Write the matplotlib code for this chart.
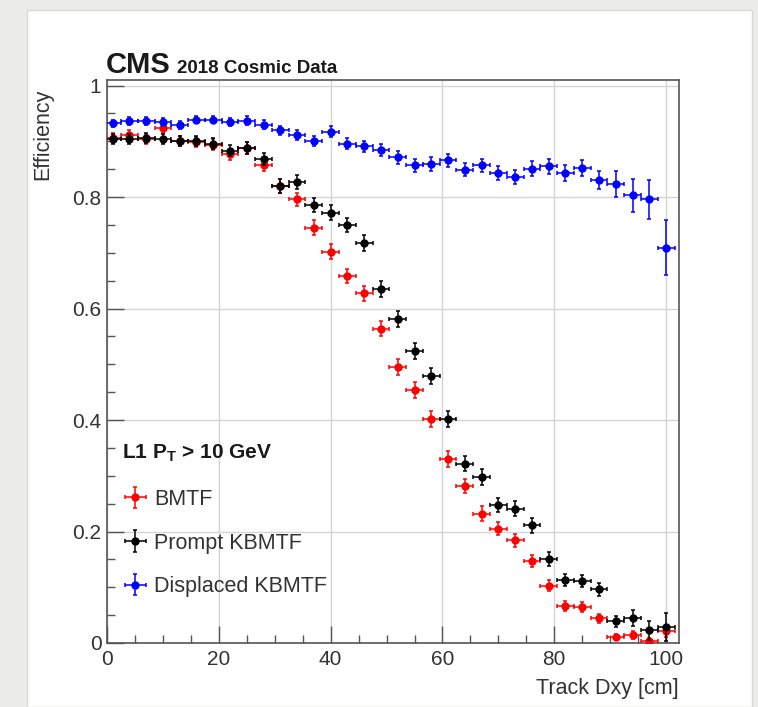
import numpy as np
import matplotlib
matplotlib.use("Agg")
from matplotlib import pyplot as plt
from matplotlib.patches import Rectangle
from matplotlib.ticker import MultipleLocator

plt.rcParams['font.family'] = ['Liberation Sans', 'DejaVu Sans']
plt.rcParams['mathtext.fontset'] = 'custom'
plt.rcParams['mathtext.rm'] = 'Liberation Sans'
plt.rcParams['mathtext.bf'] = 'Liberation Sans:bold'

# bin centres [cm], 3 cm wide
dxy = np.arange(34) * 3 + 1.0
dxy_err = np.full(34, 1.5)

# BMTF
eff_bmtf = [0.906, 0.912, 0.905, 0.924, 0.900, 0.898, 0.894, 0.877, 0.888, 0.857,
            0.820, 0.796, 0.745, 0.702, 0.658, 0.627, 0.564, 0.495, 0.454, 0.402,
            0.330, 0.282, 0.232, 0.205, 0.184, 0.147, 0.103, 0.067, 0.064, 0.044,
            0.011, 0.014, 0.003, 0.021]
err_bmtf = [0.009, 0.009, 0.009, 0.009, 0.009, 0.009, 0.010, 0.010, 0.010, 0.011,
            0.012, 0.012, 0.013, 0.013, 0.013, 0.013, 0.014, 0.014, 0.014, 0.014,
            0.014, 0.013, 0.013, 0.012, 0.012, 0.011, 0.010, 0.009, 0.009, 0.008,
            0.006, 0.007, 0.006, 0.010]

# Prompt KBMTF
eff_prompt = [0.905, 0.904, 0.906, 0.905, 0.900, 0.901, 0.896, 0.883, 0.888, 0.868,
              0.820, 0.827, 0.786, 0.772, 0.750, 0.718, 0.635, 0.581, 0.524, 0.479,
              0.402, 0.322, 0.298, 0.248, 0.241, 0.211, 0.151, 0.113, 0.111, 0.096,
              0.039, 0.045, 0.023, 0.028]
err_prompt = [0.009, 0.009, 0.009, 0.009, 0.009, 0.009, 0.010, 0.010, 0.010, 0.011,
              0.012, 0.012, 0.013, 0.013, 0.013, 0.014, 0.014, 0.014, 0.014, 0.014,
              0.014, 0.014, 0.014, 0.013, 0.013, 0.013, 0.012, 0.011, 0.011, 0.011,
              0.010, 0.014, 0.017, 0.025]

# Displaced KBMTF
eff_disp = [0.932, 0.936, 0.937, 0.935, 0.929, 0.939, 0.939, 0.935, 0.937, 0.930,
            0.920, 0.911, 0.900, 0.917, 0.896, 0.891, 0.885, 0.871, 0.857, 0.859,
            0.866, 0.849, 0.857, 0.843, 0.836, 0.851, 0.855, 0.843, 0.852, 0.830,
            0.823, 0.803, 0.796, 0.709]
err_disp = [0.007, 0.007, 0.007, 0.007, 0.007, 0.007, 0.007, 0.007, 0.008, 0.008,
            0.008, 0.009, 0.009, 0.010, 0.010, 0.010, 0.011, 0.011, 0.012, 0.012,
            0.012, 0.012, 0.012, 0.013, 0.013, 0.013, 0.013, 0.014, 0.014, 0.016,
            0.023, 0.029, 0.035, 0.049]

fig = plt.figure(figsize=(7.58, 7.07), dpi=100, facecolor='#ececE8')
# white card behind everything
fig.patches.append(Rectangle((27 / 758, 0), (752 - 27) / 758, (707 - 10) / 707,
                             transform=fig.transFigure, facecolor='white',
                             edgecolor='#d8d8d4', lw=1, zorder=-10))

ax = fig.add_axes([107 / 758, (707 - 643) / 707, 572 / 758, 563 / 707])
ax.set_facecolor('white')

kw = dict(fmt='o', markersize=5, elinewidth=1.1, capsize=1.5, capthick=1.1)
ax.errorbar(dxy, eff_bmtf, xerr=dxy_err, yerr=err_bmtf, color='#ff0000', label='BMTF', zorder=3, **kw)
ax.errorbar(dxy, eff_prompt, xerr=dxy_err, yerr=err_prompt, color='black', label='Prompt KBMTF', zorder=4, **kw)
ax.errorbar(dxy, eff_disp, xerr=dxy_err, yerr=err_disp, color='#0000ff', label='Displaced KBMTF', zorder=5, **kw)

ax.set_xlim(0, 102.3)
ax.set_ylim(0, 1.01)
ax.xaxis.set_minor_locator(MultipleLocator(5))
ax.yaxis.set_minor_locator(MultipleLocator(0.05))
ax.set_xticks([0, 20, 40, 60, 80, 100])
ax.set_xticklabels(['0', '20', '40', '60', '80', '100'])
ax.set_yticks([0, 0.2, 0.4, 0.6, 0.8, 1.0])
ax.set_yticklabels(['0', '0.2', '0.4', '0.6', '0.8', '1'])
ax.tick_params(which='both', direction='in', colors='#555555', labelcolor='#333333', labelsize=15)
ax.tick_params(which='major', length=12, width=1)
ax.tick_params(which='minor', length=6, width=1)
ax.tick_params(axis='x', pad=5)
ax.tick_params(axis='y', pad=4)
ax.grid(True, which='major', color='#d4d4d4', lw=1)
ax.set_axisbelow(True)
for s in ax.spines.values():
    s.set_color('#555555')
    s.set_linewidth(1.2)

ax.set_xlabel('Track Dxy [cm]', fontsize=15.5, color='#333333', loc='right')
ax.xaxis.set_label_coords(1.0, -0.062)
ax.set_ylabel('Efficiency', fontsize=15.5, color='#333333', loc='top')
ax.yaxis.set_label_coords(-0.094, 0.985)

fig.text(106 / 758, (707 - 73) / 707, 'CMS', fontsize=21, fontweight='bold', va='baseline', color='#1a1a1a')
fig.text(177 / 758, (707 - 73) / 707, '2018 Cosmic Data', fontsize=13.5, fontweight='bold', va='baseline', color='#1a1a1a')

ax.text(0.027, (643 - 453) / 563, r'L1 $\mathbf{P_T}$ > 10 GeV', transform=ax.transAxes,
        fontsize=15, fontweight='bold', va='center', ha='left', color='#1a1a1a')
leg = ax.legend(loc='upper left', bbox_to_anchor=(0.026, (643 - 489) / 563), frameon=False,
                fontsize=15.5, handlelength=1.25, handletextpad=0.25, labelspacing=1.05,
                borderpad=0, borderaxespad=0)
for t in leg.get_texts():
    t.set_color('#333333')

fig.savefig('out.png', dpi=100, facecolor=fig.get_facecolor())
